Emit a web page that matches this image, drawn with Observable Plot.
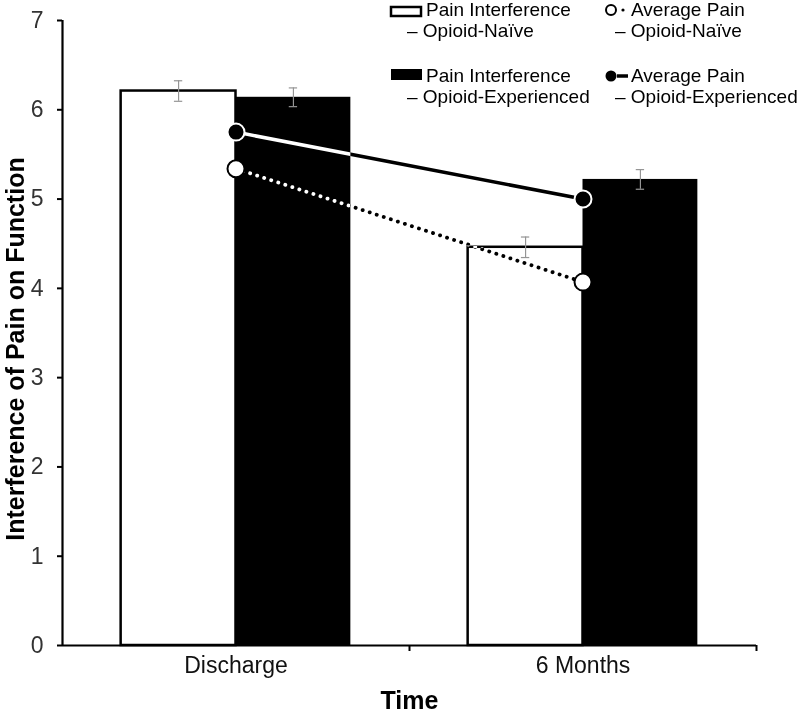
<!DOCTYPE html>
<html>
<head>
<meta charset="utf-8">
<script src="https://cdn.jsdelivr.net/npm/d3@7"></script>
<script src="https://cdn.jsdelivr.net/npm/@observablehq/plot@0.6"></script>
<style>
  html, body { margin: 0; padding: 0; background: #fff; }
  #wrap { position: relative; width: 800px; height: 715px; font-family: Arial, "Liberation Sans", sans-serif; }
  #wrap svg.plot { position: absolute; left: 0; top: 0; }
  #legend { position: absolute; left: 0; top: 0; pointer-events: none; }
  g[aria-label="y-axis tick label"] text { fill: #333; }
</style>
</head>
<body>
<div id="wrap"></div>
<script>
// ---- data ----
const categories = ["Discharge", "6 Months"];
const interferenceNaive = [6.21, 4.46];
const interferenceNaiveSE = [0.115, 0.115];
const interferenceExperienced = [6.14, 5.22];
const interferenceExperiencedSE = [0.105, 0.11];
const avgPainNaive = [5.34, 4.07];
const avgPainExperienced = [5.75, 5.00];
const yTicks = [0, 1, 2, 3, 4, 5, 6, 7];
const yTitle = "Interference of Pain on Function";
const xTitle = "Time";
const legendLabels = [
  ["Pain Interference", "– Opioid-Naïve"],
  ["Pain Interference", "– Opioid-Experienced"],
  ["Average Pain", "– Opioid-Naïve"],
  ["Average Pain", "– Opioid-Experienced"]
];

// ---- derived tables ----
const barW = 0.331;
const capW = 0.012;
const bars = [];
categories.forEach((c, i) => {
  bars.push({time: c, group: "naive", value: interferenceNaive[i], se: interferenceNaiveSE[i], x1: i + 0.5 - barW, x2: i + 0.5});
  bars.push({time: c, group: "exp", value: interferenceExperienced[i], se: interferenceExperiencedSE[i], x1: i + 0.5, x2: i + 0.5 + barW});
});
bars.forEach(d => { d.xc = (d.x1 + d.x2) / 2; });
const painNaive = categories.map((c, i) => ({time: c, x: i + 0.5, value: avgPainNaive[i]}));
const painExp = categories.map((c, i) => ({time: c, x: i + 0.5, value: avgPainExperienced[i]}));

const chart = Plot.plot({
  width: 800,
  height: 715,
  marginLeft: 62,
  marginRight: 44,
  marginTop: 20,
  marginBottom: 70,
  style: {fontFamily: "Arial, 'Liberation Sans', sans-serif", background: "white", overflow: "visible"},
  x: {type: "linear", domain: [0, 2], axis: null},
  y: {domain: [0, 7], axis: null},
  marks: [
    Plot.rectY(bars.filter(d => d.group === "naive"), {x1: "x1", x2: "x2", y1: 0, y2: "value", fill: "white", stroke: "black", strokeWidth: 2.5}),
    Plot.rectY(bars.filter(d => d.group === "exp"), {x1: "x1", x2: "x2", y1: 0, y2: "value", fill: "black"}),
    Plot.ruleX(bars, {x: "xc", y1: d => d.value - d.se, y2: d => d.value + d.se, stroke: "#959595", strokeWidth: 1.2}),
    Plot.ruleY(bars, {y: d => d.value - d.se, x1: d => d.xc - capW, x2: d => d.xc + capW, stroke: "#959595", strokeWidth: 1.2}),
    Plot.ruleY(bars, {y: d => d.value + d.se, x1: d => d.xc - capW, x2: d => d.xc + capW, stroke: "#959595", strokeWidth: 1.2}),
    Plot.line(painExp, {x: "x", y: "value", stroke: "white", strokeWidth: 3.6, mixBlendMode: "difference"}),
    Plot.line(painNaive, {x: "x", y: "value", stroke: "white", strokeWidth: 3.8, strokeDasharray: "0.1 7.3", strokeLinecap: "round", mixBlendMode: "difference"}),
    Plot.dot(painExp, {x: "x", y: "value", r: 8.5, fill: "black", stroke: "white", strokeWidth: 2}),
    Plot.dot(painNaive, {x: "x", y: "value", r: 8.5, fill: "white", stroke: "black", strokeWidth: 2}),
    Plot.ruleX([0], {y1: 0, y2: 7, stroke: "black", strokeWidth: 2.2}),
    Plot.ruleY([0], {x1: 0, x2: 2, stroke: "black", strokeWidth: 2.2}),
    Plot.axisY({ticks: yTicks, tickSize: 5, tickPadding: 14, fontSize: 23, strokeWidth: 2, label: null, tickFormat: d => String(d)}),
    Plot.axisX({ticks: [1, 2], tickSize: 6, strokeWidth: 2, tickFormat: () => "", label: null}),
    Plot.text(categories, {x: (d, i) => i + 0.5, frameAnchor: "bottom", dy: 27, fontSize: 23, fill: "#111"}),
    Plot.text([xTitle], {frameAnchor: "bottom", dy: 63, fontSize: 25, fontWeight: "bold", fill: "black"}),
    Plot.text([yTitle], {frameAnchor: "left", textAnchor: "middle", rotate: -90, dx: -47, dy: 16, fontSize: 25, fontWeight: "bold", fill: "black"})
  ]
});
document.getElementById("wrap").appendChild(chart);

// ---- legend ----
const lg = d3.select("#wrap").append("svg").attr("id", "legend").attr("width", 800).attr("height", 120)
  .style("font-family", "Arial, 'Liberation Sans', sans-serif").style("font-size", "19px");
lg.append("rect").attr("x", 391).attr("y", 7).attr("width", 30).attr("height", 9).attr("fill", "white").attr("stroke", "black").attr("stroke-width", 2.5);
lg.append("rect").attr("x", 391).attr("y", 69).attr("width", 31).attr("height", 11).attr("fill", "black");
lg.append("circle").attr("cx", 611).attr("cy", 10).attr("r", 5).attr("fill", "white").attr("stroke", "black").attr("stroke-width", 2);
lg.append("circle").attr("cx", 623).attr("cy", 10).attr("r", 1.6).attr("fill", "black");
lg.append("circle").attr("cx", 611).attr("cy", 76).attr("r", 5.5).attr("fill", "black");
lg.append("line").attr("x1", 617).attr("x2", 628).attr("y1", 76).attr("y2", 76).attr("stroke", "black").attr("stroke-width", 3.5);
const pos = [[426, 407, 16, 37], [426, 407, 82, 103], [631, 615, 16, 37], [631, 615, 82, 103]];
legendLabels.forEach((l, i) => {
  const p = pos[i];
  lg.append("text").attr("x", p[0]).attr("y", p[2]).text(l[0]);
  lg.append("text").attr("x", p[1]).attr("y", p[3]).text(l[1]);
});
</script>
</body>
</html>
